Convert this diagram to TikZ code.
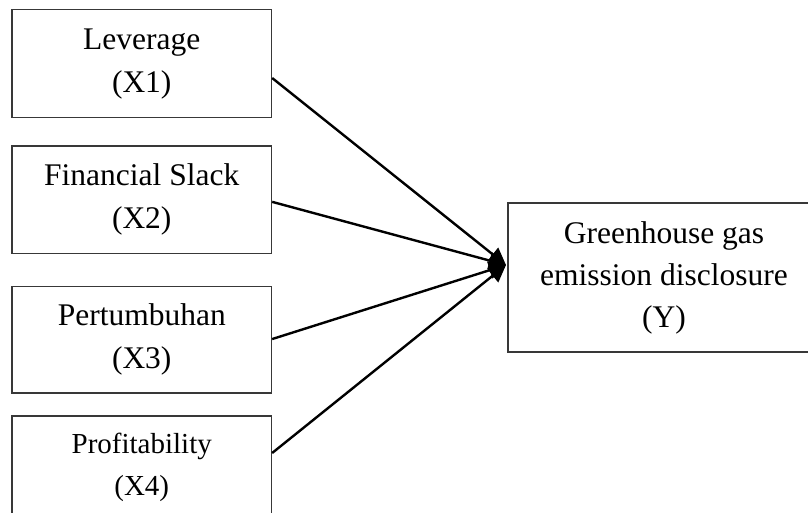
\documentclass[tikz,border=0pt]{standalone}
\usepackage{fontspec}
\setmainfont{Liberation Serif}
\usetikzlibrary{arrows.meta}
\begin{document}
\begin{tikzpicture}[x=1pt,y=-1pt,
  varbox/.style={draw=black!78,line width=1.3pt,inner sep=0pt,align=center,
    font=\fontsize{31.5}{43}\selectfont},
  smallbox/.style={varbox,font=\fontsize{29}{42}\selectfont},
  ybox/.style={varbox,font=\fontsize{31.5}{42}\selectfont},
  link/.style={line width=2.4pt,-{Triangle[length=17pt,width=17pt]}}]
\useasboundingbox (0,0) rectangle (808,512);
\clip (0,0) rectangle (808,512);
\node[varbox,minimum width=259.5pt,minimum height=108pt] (x1) at (141.75,63.6) {Leverage\\(X1)};
\node[varbox,minimum width=259.5pt,minimum height=107.7pt] (x2) at (141.75,199.85) {Financial Slack\\(X2)};
\node[varbox,minimum width=259.5pt,minimum height=106.3pt] (x3) at (141.75,339.85) {Pertumbuhan\\(X3)};
\node[smallbox,minimum width=259.5pt,minimum height=103pt] (x4) at (141.75,467.5) {Profitability\\(X4)};
\node[ybox,minimum width=312pt,minimum height=149pt] (y) at (664,277.5) {Greenhouse gas\\emission disclosure\\(Y)};
\coordinate (tip) at (506,265);
\draw[link] ([yshift=-14.4pt]x1.east) -- (tip);
\draw[link] ([yshift=-2pt]x2.east) -- (tip);
\draw[link] ([yshift=0.8pt]x3.east) -- (tip);
\draw[link] ([yshift=14.5pt]x4.east) -- (tip);
\end{tikzpicture}
\end{document}
